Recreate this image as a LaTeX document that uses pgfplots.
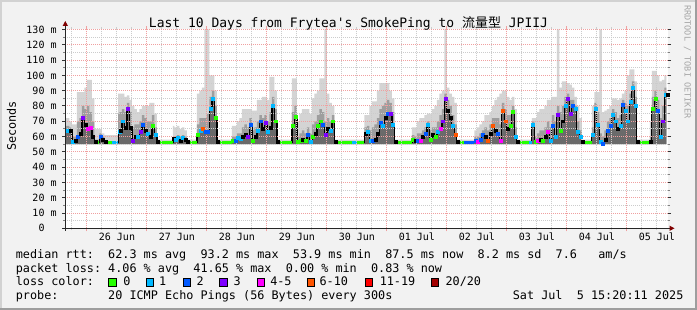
\documentclass[border=0pt]{standalone}
\usepackage{fontspec}
\setmonofont{DejaVu Sans Mono}
\renewcommand{\familydefault}{\ttdefault}
\newfontfamily\cjk{Noto Sans CJK SC}
\usepackage{pgfplots}
\usepackage{pgfplotstable}
\pgfplotsset{compat=1.18}

\definecolor{bgc}{HTML}{F2F2F2}
\definecolor{shadeA}{HTML}{D2D2D2}
\definecolor{shadeB}{HTML}{9E9E9E}
\definecolor{mgrid}{HTML}{F0A0A0}
\definecolor{mingrid}{HTML}{CCCCCC}
\definecolor{arrowc}{HTML}{800000}
\definecolor{smokeA}{HTML}{D4D4D4}
\definecolor{smokeB}{HTML}{9E9E9E}
\definecolor{smokeC}{HTML}{6A6A6A}
\definecolor{l0}{HTML}{26FF00}
\definecolor{l1}{HTML}{00B8FF}
\definecolor{l2}{HTML}{0059FF}
\definecolor{l3}{HTML}{7E00FF}
\definecolor{l4}{HTML}{FF00FF}
\definecolor{l6}{HTML}{FF5500}
\definecolor{l11}{HTML}{FF0000}
\definecolor{l20}{HTML}{A10000}

% h = hours since 26 Jun 00:00; med = median rtt (ms); q, hi = smoke levels (ms); c = loss class
\pgfplotstableread{
h     med   q   hi  c
-8.67 64    67  72  c
-7    64    66  70  n
-6    56.3  60  68  c
-5    57    60  68  n
-4    60    70  89  b
-3    62    72  89  n
-2    72    80  89  p
-1    68    78  92  n
0     65    80  97  m
1     66    76  97  m
2     60    70  85  n
3     56.3  58  65  n
5     60    62  65  b
6     58    60  62  n
7     56.3  57  61  n
12.5  63    75  88  c
13    64    76  88  n
14    70    78  88  c
15    66    76  86  n
16    78    82  87  p
17    66    76  84  n
18    57    66  80  p
19    60    68  78  n
20    60    68  76  c
21    63    70  78  p
22    68    74  80  b
23    64    72  80  n
24    62    70  80  c
25    60    70  82  n
26    67    74  82  g
27    61    66  75  c
28    56.3  57  58  n
34.4  58.5  60  67  n
35    58    60  66  c
36    59    61  67  c
37    57.5  60  65  n
38    59    61  66  c
39    58    60  64  n
40    56.3  57  58  n
44    61    68  88  g
45    64    72  90  c
46    65    72  92  o
47    63    72  130 b
48    63    75  130 b
49    78    86  100 c
50    85    90  100 c
51    72    80  90  g
52    56.3  57  58  n
58    57.5  60  67  g
59    57    60  67  b
60    59.5  62  70  c
61    58.5  62  72  c
62    60    66  78  n
63    61    68  78  n
64    60    66  78  p
65    68    72  78  b
66    57    64  77  g
67    60    66  77  n
68    64    70  84  c
69    70    74  84  b
70    65    72  86  n
71    69    74  86  p
72    63    70  84  c
73    66    76  99  n
74    80    86  99  c
75    70    78  90  g
76    56.3  57  58  n
82    67    76  98  g
83    73    80  98  g
84    56.3  60  70  g
85    57    62  75  g
86    58    64  78  n
87    57    62  78  g
88    61    66  78  b
89    56.3  62  75  c
90    60    68  85  g
91    62    70  88  n
92    67    74  90  g
93    70    78  98  g
94    68    76  98  b
95    61    70  130 p
96    65    72  88  n
97    64    70  82  c
98    70    74  80  g
99    56.3  57  58  n
111   62    66  74  n
112   63    67  74  c
113   57    64  80  c
114   57    66  83  b
115   58    68  83  n
116   62    72  90  n
117   69    78  95  b
118   67    80  95  c
119   72    82  95  n
120   75    84  95  b
121   75    82  90  p
122   68    76  85  c
123   56.3  57  58  n
130   58    61  66  g
131   57    60  66  n
132   57    62  70  b
133   57    62  72  m
134   60    64  72  n
135   62    66  74  b
136   68    70  75  c
137   58    64  75  g
138   61    66  78  n
139   60    66  80  g
140   63    70  84  c
141   65    74  88  m
142   70    78  90  p
143   85    88  130 p
144   77    84  92  n
145   72    80  88  n
146   67    74  86  c
147   61    68  82  o
148   56.3  57  58  n
155   57    60  64  b
156   56.3  60  66  m
157   58    62  68  b
158   61    64  70  b
159   60    66  74  n
160   57    64  74  o
161   62    68  76  n
162   67    72  80  o
163   64    72  84  n
164   62    72  86  b
165   57    68  88  m
166   77    82  90  o
167   70    78  90  o
168   65    74  86  n
169   67    74  84  g
170   76    80  86  g
171   60    66  78  c
172   56.3  57  58  n
178   68    70  72  c
179   56.3  60  72  g
180   57    62  76  m
181   58    64  78  n
182   57    64  78  g
183   60    66  80  n
184   63    70  84  m
185   57    66  84  c
186   67    74  86  b
187   60    70  86  c
188   74    80  130 p
189   64    76  92  g
190   70    80  96  n
191   80    86  96  c
192   85    88  95  p
193   75    84  94  p
194   80    84  92  b
195   78    80  86  c
196   63    70  80  c
197   60    64  72  c
198   56.3  57  58  n
202   61    66  80  c
203   78    82  89  c
204   68    76  89  c
205   56.3  62  130 c
206   55    60  76  b
207   58    64  77  n
208   64    70  78  b
209   67    72  80  b
210   74    78  85  c
211   70    76  85  c
212   65    72  84  n
213   67    74  85  c
214   81    84  88  b
215   77    82  90  c
216   70    80  100 c
217   83    88  104 c
218   92    96  104 c
219   80    86  96  c
220   56.3  57  58  n
225.2 56.3  60  70  n
226   78    86  103 g
227   85    90  103 g
228   77    84  100 b
229   60    72  96  c
230   70    80  97  p
231   87.5  92  100 c
231.8 87.5  92  100 n
}\smoke

\begin{document}
\begin{tikzpicture}[x=0.75pt,y=0.75pt]
\useasboundingbox (0,0) rectangle (697,310);
\fill[bgc] (0,0) rectangle (697,310);
\fill[shadeA] (0,0) rectangle (2,310);
\fill[shadeA] (0,308) rectangle (697,310);
\fill[shadeB] (0,0) rectangle (697,2);
\fill[shadeB] (695,0) rectangle (697,310);

\begin{axis}[
  at={(48.975pt,61.275pt)}, anchor=south west,
  scale only axis, width=452.1pt, height=149.1pt,
  xmin=-8.67, xmax=232.5, ymin=0, ymax=130,
  axis background/.style={fill=white},
  axis line style={draw=none},
  axis on top,
  tick label style={font=\fontsize{7.5}{8}\selectfont},
  xtick={0,24,...,216},
  xticklabels={},
  minor xtick={-6,6,12,18,30,36,42,54,60,66,78,84,90,102,108,114,126,132,138,150,156,162,174,180,186,198,204,210,222,228},
  extra x ticks={12,36,60,84,108,132,156,180,204,228},
  extra x tick labels={26 Jun,27 Jun,28 Jun,29 Jun,30 Jun,01 Jul,02 Jul,03 Jul,04 Jul,05 Jul},
  extra x tick style={grid=none, major tick length=0pt},
  xticklabel style={anchor=base, inner sep=0pt, yshift=-9.5pt},
  ytick={0,10,...,130},
  yticklabels={0\hphantom{mm},10 m,20 m,30 m,40 m,50 m,60 m,70 m,80 m,90 m,100 m,110 m,120 m,130 m},
  minor ytick={5,15,...,125},
  yticklabel style={anchor=east, inner sep=0pt, xshift=-4.1pt},
  grid=both,
  major grid style={draw=mgrid, line width=0.75pt, dash pattern=on 0.75pt off 0.75pt},
  minor grid style={draw=mingrid, line width=0.75pt, dash pattern=on 0.75pt off 0.75pt},
  tick align=outside, major tick length=2.25pt, minor tick length=1.5pt,
  xtick style={draw=mgrid, line width=0.75pt},
  minor x tick style={draw=mingrid},
  ytick style={draw=black!80, line width=0.75pt},
  minor y tick style={draw=black!50},
]
\addplot[const plot, fill=smokeA, draw=none] table[x=h,y=hi]{\smoke} -- (231.8,55) -- (-8.67,55) -- cycle;
\addplot[const plot, fill=smokeB, draw=none] table[x=h,y=q]{\smoke} -- (231.8,55) -- (-8.67,55) -- cycle;
\addplot[const plot, fill=smokeC, draw=none] table[x=h,y=med]{\smoke} -- (231.8,55) -- (-8.67,55) -- cycle;
\addplot[const plot, black, line width=0.9pt] table[x=h,y=med]{\smoke};
\addplot[l0, line width=2.25pt, unbounded coords=jump] coordinates {
 (3,56.3)(5,56.3) (5,nan)
 (7,56.3)(10,56.3) (10,nan)
 (28,56.3)(34.4,56.3) (34.4,nan)
 (40,56.3)(44,56.3) (44,nan)
 (52,56.3)(58,56.3) (58,nan)
 (76,56.3)(82,56.3) (82,nan)
 (84,56.3)(85,56.3) (85,nan)
 (99,56.3)(111,56.3) (111,nan)
 (123,56.3)(130,56.3) (130,nan)
 (148,56.3)(151,56.3) (151,nan)
 (172,56.3)(177,56.3) (177,nan)
 (198,56.3)(202,56.3) (202,nan)
 (220,56.3)(226,56.3)
};
\addplot[l1, line width=2.25pt, unbounded coords=jump] coordinates {
 (10,56.3)(12.5,56.3) (12.5,nan) (106,56.3)(108,56.3) (108,nan) (177,56.3)(178,56.3)
};
\addplot[l2, line width=2.25pt] coordinates {(151,56.3)(155,56.3)};
\addplot[scatter, only marks, scatter src=explicit symbolic, mark=square*, mark size=1.1pt,
  mark options={xshift=0.94pt},
  scatter/classes={
    g={draw=l0,fill=l0}, c={draw=l1,fill=l1}, b={draw=l2,fill=l2},
    p={draw=l3,fill=l3}, m={draw=l4,fill=l4}, o={draw=l6,fill=l6},
    r={draw=l11,fill=l11}, d={draw=l20,fill=l20}, n={draw=none,fill=none}}]
  table[x=h,y=med,meta=c]{\smoke};
\end{axis}

% axis lines with arrows
\draw[black!85, line width=0.75pt] (65.3,79.2) -- (65.3,284);
\fill[arrowc] (62.6,284) -- (68,284) -- (65.3,289) -- cycle;
\draw[black!85, line width=0.75pt] (62.8,81.7) -- (669.5,81.7);
\fill[arrowc] (669.5,79) -- (669.5,84.4) -- (674.5,81.7) -- cycle;

% title and labels
\node[anchor=base, inner sep=0pt, font=\fontsize{9.75}{11}\selectfont] at (348.5,282.7)
  {Last 10 Days from Frytea's SmokePing to {\cjk 流量型} JPIIJ};
\node[rotate=90, anchor=center, inner sep=0pt, font=\fontsize{8.85}{10}\selectfont] at (11.5,184) {Seconds};
\node[rotate=-90, anchor=west, inner sep=0pt, text=black!35, font=\fontsize{6.4}{7}\selectfont] at (687.5,305) {RRDTOOL / TOBI OETIKER};

% legend
\begin{scope}[every node/.style={anchor=base west, inner sep=0pt, font=\fontsize{8.85}{10}\selectfont}]
\node at (15.6,51.7) {median~rtt:~~62.3~ms~avg~~93.2~ms~max~~53.9~ms~min~~87.5~ms~now~~8.2~ms~sd~~7.6~~~am/s};
\node at (15.6,37.9) {packet~loss:~4.06~\%~avg~~41.65~\%~max~~0.00~\%~min~~0.83~\%~now};
\node at (15.6,24.1) {loss~color:};
\node at (15.6,10.3) {probe:~~~~~~~20~ICMP~Echo~Pings~(56~Bytes)~every~300s};
\node at (512.6,10.3) {Sat~Jul~~5~15:20:11~2025};
\node at (123.2,24.1) {0};
\node at (158.8,24.1) {1};
\node at (196.3,24.1) {2};
\node at (233.3,24.1) {3};
\node at (270.0,24.1) {4-5};
\node at (319.3,24.1) {6-10};
\node at (379.5,24.1) {11-19};
\node at (445.3,24.1) {20/20};
\end{scope}
\begin{scope}[line width=0.75pt]
\filldraw[fill=l0, draw=black] (108.8,23.8) rectangle (116.2,31.2);
\filldraw[fill=l1, draw=black] (146.2,23.8) rectangle (153.6,31.2);
\filldraw[fill=l2, draw=black] (183.2,23.8) rectangle (190.6,31.2);
\filldraw[fill=l3, draw=black] (219.8,23.8) rectangle (227.2,31.2);
\filldraw[fill=l4, draw=black] (257.2,23.8) rectangle (264.6,31.2);
\filldraw[fill=l6, draw=black] (307.5,23.8) rectangle (314.9,31.2);
\filldraw[fill=l11, draw=black] (365.5,23.8) rectangle (372.9,31.2);
\filldraw[fill=l20, draw=black] (431.2,23.8) rectangle (438.6,31.2);
\end{scope}
\end{tikzpicture}
\end{document}
